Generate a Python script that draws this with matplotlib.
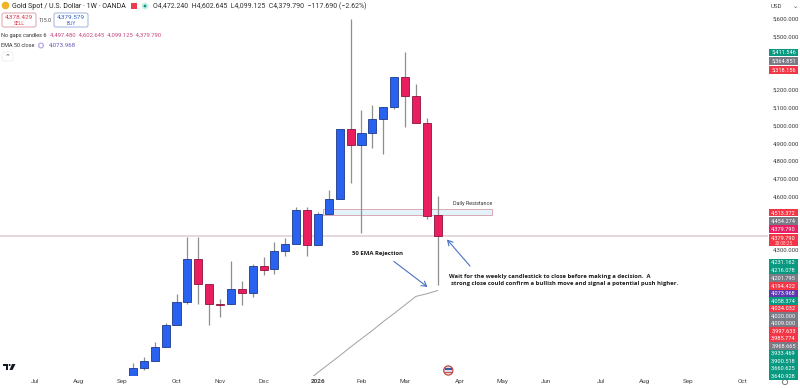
import matplotlib
matplotlib.use("Agg")
import matplotlib.pyplot as plt
from matplotlib.patches import Rectangle, FancyBboxPatch, Circle, Polygon

plt.rcParams['font.family'] = ['Roboto', 'DejaVu Sans']

# Weekly OHLC
opens  = [3591, 3636, 3675, 3752, 3878, 4007, 4246, 4105, 3992, 3992, 4077, 4054, 4208, 4190, 4291,
          4332, 4526, 4325, 4503, 4588, 4982, 4890, 4960, 5037, 5102, 5273, 5166, 5012, 4497.48]
highs  = [3664, 3698, 3780, 3889, 4049, 4374, 4374, 4105, 4022, 4238, 4126, 4218, 4257, 4345, 4368,
          4543, 4543, 4514, 4637, 4982, 5600, 5087, 5114, 5102, 5273, 5416, 5234, 5040, 4602.645]
lows   = [3591, 3621, 3675, 3752, 3878, 3994, 3996, 3878, 3923, 3992, 3989, 4032, 4156, 4165, 4267,
          4332, 4267, 4325, 4503, 4588, 4674, 4396, 4875, 4839, 5091, 4993, 5012, 4473, 4099.125]
closes = [3632, 3673, 3750, 3876, 4007, 4246, 4105, 3992, 3990, 4077, 4054, 4208, 4188, 4291, 4332,
          4526, 4325, 4503, 4588, 4982, 4890, 4960, 5037, 5102, 5273, 5166, 5012, 4492, 4379.79]

ema_index = [16, 17, 18, 19, 20, 21, 22, 23, 24, 25, 26, 27, 28]
ema_values = [3560, 3609, 3656, 3703, 3752, 3799, 3845, 3895, 3941, 3989, 4037, 4052, 4070]

month_index = [-9, -5, -1, 4, 8, 12, 17, 21, 25, 30, 34, 38, 43, 47, 51, 56]
month_labels = ['Jul', 'Aug', 'Sep', 'Oct', 'Nov', 'Dec', '2026', 'Feb', 'Mar', 'Apr', 'May', 'Jun',
                'Jul', 'Aug', 'Sep', 'Oct']
price_ticks = [4300, 4600, 4700, 4800, 4900, 5000, 5100, 5200, 5500, 5600]

tag_texts = ['5,411.546', '5,364.851', '5,318.156', '4,513.372', '4,454.274', '4,379.790', '4,379.790',
             '4,231.162', '4,216.078', '4,201.795', '4,194.422', '4,073.968', '4,058.374', '4,034.032',
             '4,020.000', '4,009.000', '3,997.633', '3,985.774', '3,968.665', '3,933.469', '3,900.518',
             '3,660.625', '3,640.928']
tag_y = [52.5, 61, 70, 212.7, 221, 229, 238, 262.5, 270, 278, 286, 293.5, 301, 308.5, 316, 323.5, 331,
         338.5, 346, 353.5, 361, 368.5, 376]
GREEN, GRAY, RED, PINK, PURPLE = '#089981', '#787b86', '#f23645', '#e91e63', '#5e35b1'
tag_colors = [GREEN, GRAY, RED, RED, GRAY, PINK, RED, GREEN, GREEN, GRAY, RED, PURPLE, GREEN, RED,
              GRAY, GRAY, RED, RED, GRAY, GREEN, GREEN, GREEN, GREEN]

W, H = 800, 388
fig = plt.figure(figsize=(W / 100, H / 100), dpi=100, facecolor='white')
ax = fig.add_axes([0, 1 - 376 / H, 768 / W, 376 / H])
ax.set_xlim((0 - 133) / 10.88, (768 - 133) / 10.88)
ax.set_ylim(5600 - 357 / 0.1775, 5600 + 19 / 0.1775)
for s in ax.spines.values():
    s.set_visible(False)
ax.yaxis.tick_right()
ax.set_yticks(price_ticks)
ax.set_yticklabels([f'{p:,.3f}' for p in price_ticks], fontsize=4.3, color='#3a3a3a')
ax.tick_params(axis='y', length=0, pad=3.5)
ax.set_xticks(month_index)
ax.set_xticklabels(month_labels, fontsize=4.6, color='#444444')
ax.tick_params(axis='x', length=0, pad=2.5)
ax.get_xticklabels()[6].set_fontweight('bold')

BLUE, CRIM = '#2962ef', '#e91e5f'
for i, (o, h, l, c) in enumerate(zip(opens, highs, lows, closes)):
    up = c >= o
    ax.plot([i, i], [l, h], color='#8f8f8f', lw=0.9, zorder=3, solid_capstyle='butt')
    ax.add_patch(Rectangle((i - 0.37, min(o, c)), 0.74, max(abs(c - o), 1),
                           facecolor=BLUE if up else CRIM,
                           edgecolor='#1c3a8a' if up else '#8f1240', lw=0.6, zorder=4))

ax.plot(ema_index, ema_values, color='#a0a0a0', lw=0.7, zorder=2)

ax.add_patch(Rectangle((17.5, 4494), 15.5, 34, facecolor='#e4f3fa', edgecolor='#d9a9b4', lw=0.7, zorder=1))
ax.text(33, 4545, 'Daily Resistance', ha='right', va='bottom', fontsize=3.9, color='#333333')
ax.axhline(4379.79, color='#e3d6db', lw=1.3, zorder=1)

# Overlay in image pixels for chart furniture
ov = fig.add_axes([0, 0, 1, 1], facecolor='none')
ov.set_xlim(0, W)
ov.set_ylim(H, 0)
ov.axis('off')

for t, y, col in zip(tag_texts, tag_y, tag_colors):
    ov.add_patch(Rectangle((769, y - 3.7), 29, 7.4, facecolor=col, edgecolor='none', zorder=5))
    ov.text(783.5, y, t, color='white', fontsize=4.1, ha='center', va='center', zorder=6)
ov.add_patch(Rectangle((769, 238 + 3.7), 29, 3.9, facecolor=RED, edgecolor='none', zorder=5))
ov.text(783.5, 243.6, '20:08:25', color='#ffd5da', fontsize=3.4, ha='center', va='center', zorder=6)

ov.text(771, 6, 'USD', fontsize=4.4, color='#444444', va='center')
ov.text(795, 6, '⌄', fontsize=4.5, color='#444444', va='center', ha='center')
ov.add_patch(Circle((785, 382), 2.6, facecolor='white', edgecolor='#666666', lw=0.6))

# Header
ov.add_patch(Circle((5.5, 5.5), 3.8, facecolor='#f0b429', edgecolor='none'))
ov.text(11.5, 6, 'Gold Spot / U.S. Dollar · 1W · OANDA', fontsize=5.0, color='#222222', va='center')
ov.add_patch(Rectangle((131, 2.5), 5.5, 6, facecolor='#ef3b4e', edgecolor='none'))
ov.add_patch(Circle((145, 6), 3.5, facecolor='#c9efe6', edgecolor='none'))
ov.add_patch(Circle((145, 6), 1.4, facecolor='#089981', edgecolor='none'))
ov.text(153, 6, 'O4,472.240  H4,602.645  L4,099.125  C4,379.790  −117.690 (−2.62%)',
        fontsize=5.0, color='#333333', va='center')

ov.add_patch(FancyBboxPatch((2, 13), 34, 14, boxstyle='round,pad=0,rounding_size=2',
                            facecolor='white', edgecolor='#e0a0a8', lw=0.7))
ov.text(19, 17.5, '4,378.429', fontsize=4.6, color='#d9344a', ha='center', va='center')
ov.text(19, 23.5, 'SELL', fontsize=3.6, color='#d9344a', ha='center', va='center')
ov.text(45, 20, '115.0', fontsize=3.8, color='#444444', ha='center', va='center')
ov.add_patch(FancyBboxPatch((54, 13), 34, 14, boxstyle='round,pad=0,rounding_size=2',
                            facecolor='white', edgecolor='#9db4e0', lw=0.7))
ov.text(71, 17.5, '4,379.579', fontsize=4.6, color='#2f5fc4', ha='center', va='center')
ov.text(71, 23.5, 'BUY', fontsize=3.6, color='#2f5fc4', ha='center', va='center')

ov.text(1, 35, 'No gaps candles 6', fontsize=4.0, color='#333333', va='center')
ov.text(50, 35, '4,497.480  4,602.645  4,099.125  4,379.790', fontsize=4.2, color='#c2487e', va='center')
ov.text(1, 45.5, 'EMA 50 close', fontsize=4.0, color='#333333', va='center')
ov.add_patch(Circle((41, 45.5), 2.4, facecolor='white', edgecolor='#b9a7e6', lw=0.9))
ov.text(49, 45.5, '4,073.968', fontsize=4.4, color='#6a55b8', va='center')
ov.add_patch(FancyBboxPatch((2, 52), 11, 9, boxstyle='round,pad=0,rounding_size=1.5',
                            facecolor='white', edgecolor='#eeeeee', lw=0.6))
ov.text(7.5, 57, '⌃', fontsize=5, color='#444444', ha='center', va='center')

# Annotations
ARROW = '#4a72c0'
NOTE_FONT = ['Open Sans', 'DejaVu Sans']
ov.text(351.5, 254, '50 EMA Rejection', fontsize=4.3, fontweight='bold', color='#1c1c1c', va='center', family=NOTE_FONT)
ov.text(449, 276.5, 'Wait for the weekly candlestick to close before making a decision.  A', fontsize=4.2,
        fontweight='bold', color='#1c1c1c', va='center', family=NOTE_FONT)
ov.text(451, 283.5, 'strong close could confirm a bullish move and signal a potential push higher.', fontsize=4.2,
        fontweight='bold', color='#1c1c1c', va='center', family=NOTE_FONT)
ov.annotate('', xy=(427.5, 287), xytext=(394, 261.5),
            arrowprops=dict(arrowstyle='->,head_length=0.35,head_width=0.2', color=ARROW, lw=0.8,
                            shrinkA=0, shrinkB=0))
ov.annotate('', xy=(447, 239.5), xytext=(470, 266),
            arrowprops=dict(arrowstyle='->,head_length=0.35,head_width=0.2', color=ARROW, lw=0.8,
                            shrinkA=0, shrinkB=0))

# Event flag and logo
ov.add_patch(Circle((448.3, 370.5), 4.6, facecolor='#d8dce8', edgecolor='#c0392b', lw=0.8))
ov.add_patch(Rectangle((444.5, 368), 7.6, 1.6, facecolor='#3b5aa8', edgecolor='none'))
ov.add_patch(Rectangle((444.5, 371.5), 7.6, 1.2, facecolor='#d04a4a', edgecolor='none'))
LOGO = '#131722'
ov.add_patch(Polygon([(3, 364), (8, 364), (8, 370), (5.8, 370), (5.8, 366), (3, 366)], facecolor=LOGO, edgecolor='none'))
ov.add_patch(Circle((9.6, 365), 1.0, facecolor=LOGO, edgecolor='none'))
ov.add_patch(Polygon([(12, 364), (15.5, 364), (12.5, 370), (9.5, 370)], facecolor=LOGO, edgecolor='none'))

fig.savefig('out.png', dpi=100, facecolor='white')
